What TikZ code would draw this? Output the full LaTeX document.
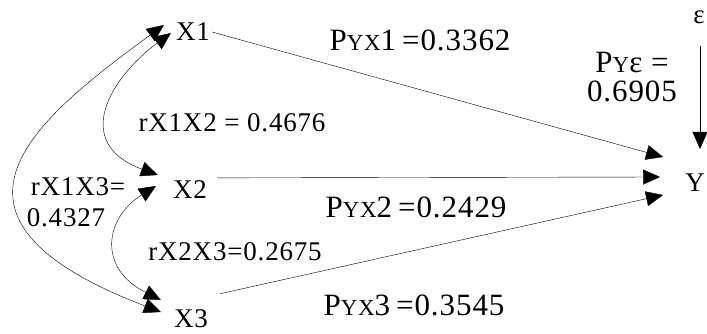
\documentclass[tikz,border=0pt]{standalone}
\usepackage{fontspec}
\setmainfont{Liberation Serif}[LetterSpace=3]
\usepackage{tikz}
\usetikzlibrary{arrows.meta}

\newcommand{\sml}[1]{{\fontsize{23}{23}\selectfont #1}}

\begin{document}
\begin{tikzpicture}[x=1pt,y=1pt,
	every node/.style={inner sep=0pt, font=\fontsize{27}{30}\selectfont},
	coef/.style={font=\fontsize{31}{34}\selectfont},
	arr/.style={-{Triangle[length=17pt,width=15pt]}},
	dbl/.style={{Triangle[length=17pt,width=15pt]}-{Triangle[length=17pt,width=15pt]}}]
	\useasboundingbox (0,0) rectangle (707,333);
	% variables
	\node (x1) at (193,301) {X1};
	\node (x2) at (190,143) {X2};
	\node (x3) at (191,14) {X3};
	\node (y) at (695,150) {Y};
	\node (eps) at (699,316) {ε};
	% correlations
	\draw [dbl] ([shift={(-12,7)}]x1.west) .. controls (30,210) and (-85,115) .. ([shift={(-13,7)}]x3.west);
	\draw [dbl] ([shift={(-5,-1)}]x1.west) .. controls (110,255) and (71,190) .. ([shift={(-15,15)}]x2.west);
	\draw [dbl] ([shift={(-17,4)}]x2.west) .. controls (105,115) and (97,65) .. ([shift={(-13,19)}]x3.west);
	% paths to Y
	\draw [arr] ([shift={(2,0)}]x1.east) -- ([shift={(-22,26)}]y.west);
	\draw [arr] ([shift={(10,3)}]x2.north east) -- ([shift={(-25,6)}]y.west);
	\draw [arr] ([shift={(12,16)}]x3.north east) -- ([shift={(-22,-12)}]y.west);
	\draw [arr] ([shift={(1,-22)}]eps.south) -- ([shift={(5,25)}]y.north);
	% coefficients
	\node [coef] (p1) at (420,293) {P\sml{YX}1\hspace{6pt}=0.3362};
	\node [coef] (pe) at (632,270) {P\sml{Y}ε =};
	\node [coef] (pv) at (632,242) {0.6905};
	\node (r12) at (232,210) {rX1X2 = 0.4676};
	\node [coef] (p2) at (416,126) {P\sml{YX}2\hspace{6pt}=0.2429};
	\node (r13) at (78,146) {rX1X3=};
	\node (r13v) at (66,115) {0.4327};
	\node (r23) at (235,81) {rX2X3=0.2675};
	\node [coef] (p3) at (414,28) {P\sml{YX}3\hspace{6pt}=0.3545};
\end{tikzpicture}
\end{document}
